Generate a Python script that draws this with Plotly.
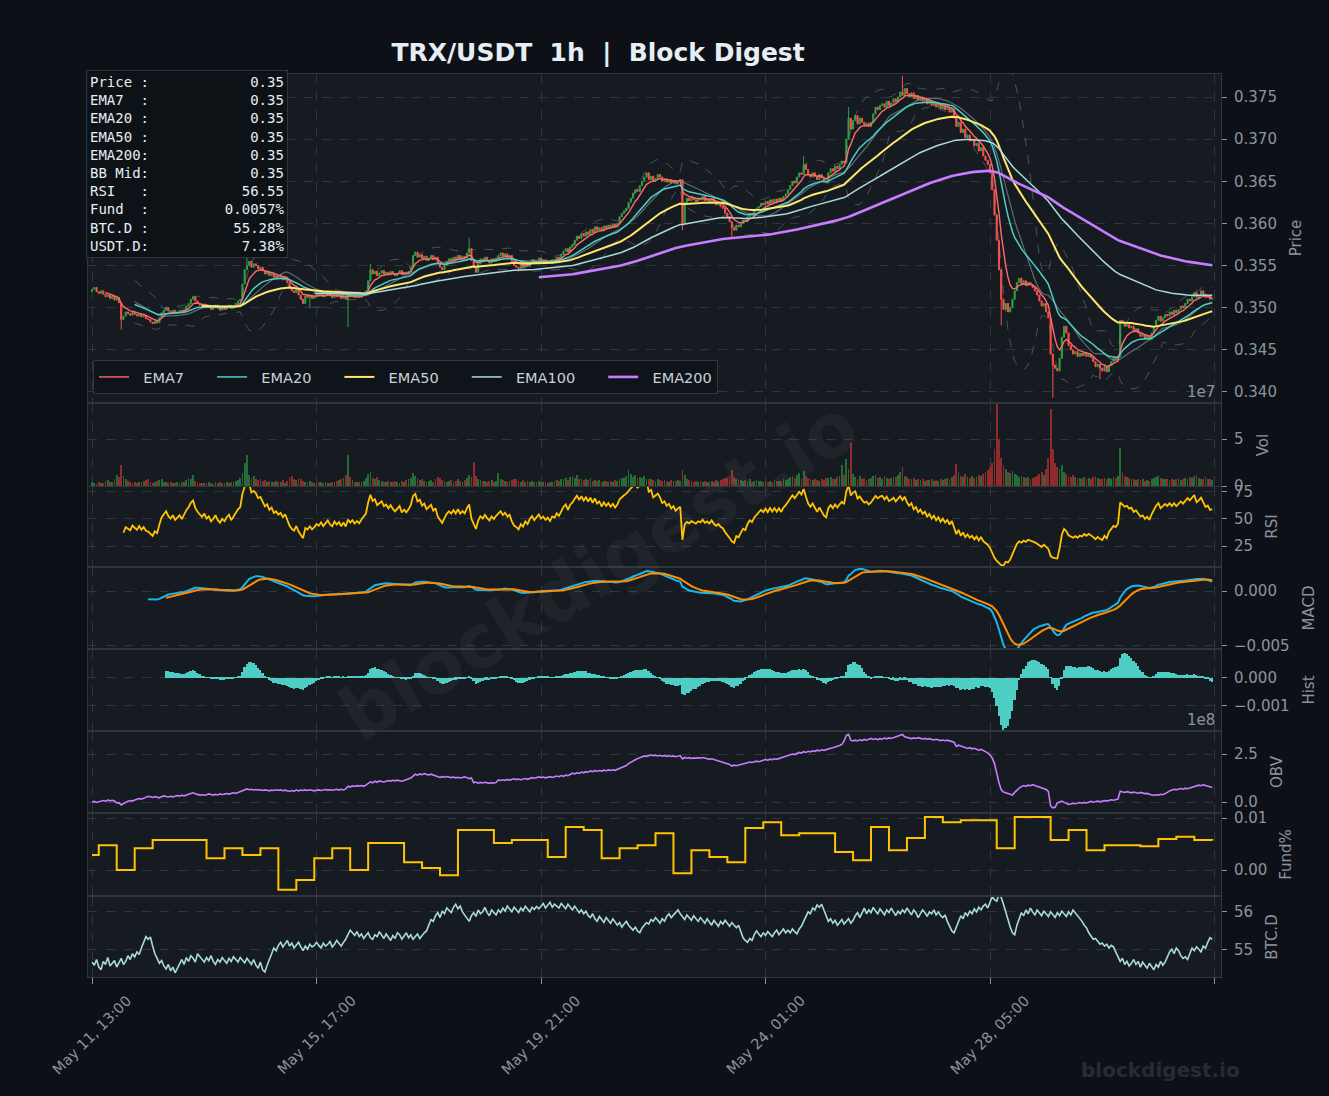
import numpy as np
import pandas as pd
import plotly.graph_objects as go

# ---------------------------------------------------------------- data
# hourly closes, price x 1e4 (TRX/USDT), starting May 11 13:00
close_e4 = [
    3522, 3524, 3519, 3517, 3520, 3516, 3513, 3515, 3511, 3514,
    3509, 3512, 3506, 3486, 3490, 3495, 3493, 3491, 3495, 3492,
    3490, 3493, 3489, 3491, 3487, 3486, 3483, 3481, 3484, 3482,
    3488, 3494, 3497, 3500, 3496, 3494, 3497, 3493, 3495, 3497,
    3494, 3498, 3502, 3505, 3510, 3513, 3508, 3505, 3503, 3501,
    3504, 3500, 3502, 3498, 3500, 3503, 3499, 3497, 3500, 3498,
    3501, 3503, 3499, 3502, 3505, 3508, 3510, 3528, 3545, 3550,
    3555, 3548, 3552, 3550, 3546, 3548, 3544, 3540, 3543, 3538,
    3541, 3536, 3538, 3535, 3537, 3533, 3536, 3530, 3524, 3520,
    3518, 3522, 3515, 3510, 3505, 3514, 3512, 3515, 3511, 3513,
    3516, 3514, 3517, 3513, 3515, 3518, 3514, 3512, 3516, 3513,
    3515, 3511, 3514, 3510, 3516, 3513, 3515, 3512, 3514, 3512,
    3515, 3518, 3520, 3532, 3545, 3540, 3543, 3538, 3541, 3544,
    3540, 3542, 3539, 3543, 3540, 3538, 3541, 3544, 3539, 3542,
    3540, 3543, 3548, 3562, 3566, 3560, 3563, 3558, 3561, 3556,
    3559, 3562, 3557, 3560, 3552, 3548, 3545, 3550, 3555, 3558,
    3556, 3560, 3557, 3562, 3558, 3561, 3559, 3565, 3570, 3556,
    3548, 3542, 3552, 3558, 3555, 3560, 3556, 3553, 3558, 3555,
    3559, 3562, 3565, 3561, 3564, 3560, 3562, 3555, 3550, 3548,
    3545, 3550, 3547, 3552, 3549, 3554, 3557, 3553, 3556, 3559,
    3555, 3557, 3554, 3556, 3553, 3557, 3556, 3560, 3558, 3563,
    3567, 3570, 3566, 3572, 3575, 3580, 3585, 3582, 3588, 3585,
    3590, 3587, 3593, 3589, 3596, 3592, 3595, 3591, 3597, 3594,
    3598, 3595, 3599, 3596, 3600, 3608, 3612, 3615, 3618, 3625,
    3630, 3636, 3640, 3638, 3645, 3650, 3655, 3660, 3652, 3656,
    3650, 3653, 3658, 3655, 3650, 3653, 3649, 3652, 3648, 3651,
    3647, 3650, 3652, 3600, 3625, 3630, 3627, 3631, 3628, 3626,
    3630, 3628, 3632, 3627, 3629, 3626, 3630, 3625, 3622, 3624,
    3620, 3618, 3612, 3608, 3602, 3595, 3592, 3598, 3596, 3600,
    3604, 3602, 3608, 3612, 3610, 3615, 3618, 3620, 3624, 3622,
    3626, 3623, 3628, 3625, 3629, 3626, 3630, 3627, 3632, 3635,
    3640, 3645, 3650, 3648, 3655, 3660, 3658, 3670, 3664, 3658,
    3655, 3660, 3656, 3652, 3658, 3654, 3650, 3648, 3660, 3665,
    3662, 3668, 3665, 3670, 3674, 3672, 3700, 3725, 3712, 3722,
    3728, 3718, 3725, 3720, 3716, 3719, 3715, 3720, 3730, 3738,
    3735, 3740, 3742, 3738, 3745, 3740, 3743, 3748, 3744, 3750,
    3756, 3752, 3760, 3754, 3750, 3755, 3748, 3752, 3746, 3750,
    3745, 3748, 3742, 3746, 3740, 3744, 3738, 3742, 3736, 3740,
    3735, 3738, 3732, 3736, 3725, 3715, 3720, 3708, 3712, 3702,
    3705, 3698, 3700, 3692, 3695, 3686, 3690, 3680, 3675, 3670,
    3660, 3640, 3610, 3580, 3545, 3510, 3498, 3505, 3495, 3500,
    3510, 3520, 3530, 3535, 3528, 3532, 3526, 3530, 3527, 3524,
    3520, 3515, 3508, 3502, 3505, 3495, 3488, 3445, 3432, 3428,
    3425, 3440, 3465, 3478, 3470, 3455, 3450, 3445, 3448, 3442,
    3446, 3443, 3447, 3442, 3445, 3441, 3436, 3430, 3433, 3428,
    3425, 3430, 3424, 3432, 3436, 3440, 3438, 3442, 3485, 3482,
    3478, 3480, 3476, 3478, 3472, 3475, 3470, 3466, 3468, 3463,
    3466, 3462, 3470, 3478, 3485, 3490, 3484, 3488, 3492, 3490,
    3495, 3492, 3497, 3494, 3498, 3502, 3500, 3505, 3510, 3508,
    3513, 3518, 3512, 3515, 3520, 3516, 3512, 3514, 3510, 3511,
]
first_open_e4 = 3519

# long candle wicks (index, price x 1e4)
wick_high_idx = [69, 124, 168, 317, 337, 361]
wick_high_e4 = [3562, 3552, 3583, 3680, 3738, 3775]
wick_low_idx = [13, 97, 114, 263, 285, 405, 428, 449]
wick_low_e4 = [3474, 3500, 3477, 3592, 3584, 3479, 3393, 3415]

# hourly volume, units of 1e5
volume_e5 = [
    45, 30, 25, 40, 35, 28, 50, 60, 42, 38,
    80, 120, 95, 220, 110, 70, 55, 40, 35, 48,
    30, 45, 38, 52, 60, 75, 48, 35, 40, 55,
    62, 70, 45, 38, 30, 42, 35, 28, 40, 33,
    45, 38, 60, 85, 70, 120, 55, 40, 35, 30,
    28, 35, 42, 30, 25, 38, 32, 45, 28, 35,
    40, 30, 38, 45, 50, 60, 85, 140, 250, 330,
    120, 90, 110, 80, 65, 70, 55, 60, 48, 52,
    45, 40, 55, 38, 42, 60, 35, 50, 95, 110,
    75, 60, 85, 70, 55, 48, 40, 52, 45, 35,
    30, 42, 38, 35, 45, 28, 33, 40, 38, 55,
    60, 70, 85, 120, 330, 95, 60, 45, 40, 38,
    42, 55, 90, 130, 150, 85, 70, 95, 60, 55,
    45, 40, 52, 38, 48, 55, 42, 35, 50, 45,
    60, 75, 90, 140, 110, 85, 65, 70, 55, 48,
    52, 60, 45, 70, 95, 85, 60, 50, 48, 55,
    62, 48, 55, 70, 58, 45, 60, 85, 120, 95,
    260, 110, 75, 60, 55, 50, 45, 58, 62, 48,
    55, 140, 70, 60, 52, 45, 50, 65, 80, 70,
    55, 48, 60, 45, 52, 40, 55, 48, 42, 50,
    45, 38, 42, 35, 48, 40, 52, 60, 55, 75,
    70, 85, 60, 95, 110, 90, 120, 75, 80, 65,
    70, 60, 85, 55, 65, 50, 60, 45, 58, 52,
    48, 55, 42, 60, 52, 70, 85, 90, 110, 170,
    130, 95, 120, 85, 100, 90, 110, 75, 70, 80,
    65, 55, 70, 60, 50, 65, 55, 48, 60, 52,
    58, 62, 55, 170, 120, 75, 60, 55, 48, 52,
    45, 50, 42, 55, 48, 40, 52, 45, 60, 55,
    65, 70, 85, 90, 110, 170, 95, 75, 60, 65,
    55, 60, 52, 70, 48, 55, 62, 50, 58, 45,
    52, 48, 55, 45, 60, 50, 58, 55, 70, 65,
    80, 95, 110, 85, 120, 140, 90, 160, 110, 85,
    70, 60, 75, 65, 55, 70, 60, 85, 90, 95,
    80, 75, 95, 110, 220, 120, 290, 180, 460, 130,
    95, 80, 110, 70, 85, 65, 75, 90, 110, 120,
    85, 95, 80, 110, 90, 75, 85, 100, 95, 120,
    150, 200, 110, 95, 80, 70, 85, 65, 75, 60,
    70, 55, 65, 60, 75, 58, 62, 55, 70, 65,
    75, 85, 70, 95, 120, 240, 150, 110, 95, 130,
    100, 85, 110, 90, 95, 120, 105, 130, 150, 170,
    200, 250, 400, 870, 500, 300, 220, 180, 150, 140,
    160, 130, 120, 95, 110, 100, 85, 95, 80, 90,
    95, 110, 130, 150, 120, 180, 300, 820, 400, 250,
    200, 180, 220, 150, 130, 110, 95, 120, 100, 85,
    90, 80, 95, 75, 85, 70, 95, 110, 90, 80,
    75, 85, 70, 90, 80, 95, 85, 110, 410, 150,
    110, 95, 85, 70, 80, 65, 75, 60, 70, 55,
    65, 58, 70, 85, 95, 110, 90, 75, 80, 70,
    65, 75, 60, 70, 85, 65, 75, 90, 80, 95,
    85, 110, 120, 90, 75, 70, 95, 80, 70, 60,
]

# on-balance volume, units of 1e6
obv_e6 = [
    0, 3, -2, 2, 5, 8, 4, 10, 6, 9,
    5, -5, -3, -15, -8, -1, 4, 8, 5, 10,
    14, 18, 15, 20, 25, 30, 27, 24, 28, 25,
    22, 28, 32, 29, 26, 30, 27, 30, 34, 31,
    35, 32, 38, 40, 44, 48, 43, 40, 36, 38,
    35, 38, 42, 39, 36, 40, 37, 42, 39, 41,
    44, 41, 45, 48, 45, 50, 55, 58, 65, 68,
    64, 66, 63, 65, 62, 64, 60, 63, 61, 58,
    62, 60, 64, 61, 63, 59, 62, 58, 55, 60,
    57, 62, 58, 62, 60, 63, 60, 64, 61, 58,
    61, 63, 60, 62, 65, 62, 64, 61, 63, 66,
    62, 66, 63, 68, 82, 78, 84, 81, 85, 83,
    86, 82, 88, 95, 105, 100, 108, 103, 110, 107,
    104, 108, 112, 109, 113, 110, 114, 111, 108, 112,
    116, 120, 125, 135, 145, 140, 146, 142, 148, 144,
    141, 145, 140, 137, 130, 128, 132, 129, 133, 131,
    127, 130, 126, 129, 125, 128, 131, 127, 122, 125,
    100, 104, 98, 102, 99, 103, 100, 97, 101, 98,
    102, 115, 112, 116, 113, 117, 114, 118, 121, 117,
    120, 116, 119, 122, 118, 123, 127, 124, 128, 131,
    127, 130, 126, 129, 132, 128, 131, 135, 132, 138,
    134, 140, 137, 143, 150, 146, 153, 149, 156, 152,
    158, 155, 162, 158, 163, 160, 164, 161, 166, 163,
    167, 164, 168, 165, 170, 175, 180, 184, 190, 200,
    208, 214, 220, 226, 232, 236, 240, 238, 242, 245,
    241, 244, 240, 243, 239, 242, 238, 241, 237, 240,
    236, 239, 242, 225, 232, 228, 231, 227, 230, 228,
    231, 228, 232, 229, 226, 222, 225, 221, 218, 215,
    212, 209, 205, 200, 196, 187, 192, 189, 193, 196,
    199, 202, 205, 208, 206, 210, 213, 210, 215, 218,
    221, 218, 223, 220, 225, 222, 227, 230, 234, 238,
    242, 246, 250, 247, 252, 258, 255, 262, 258, 264,
    261, 267, 264, 270, 266, 272, 269, 274, 277, 280,
    283, 286, 290, 294, 300, 318, 347, 352, 322, 318,
    322, 318, 324, 320, 326, 322, 327, 331, 326, 329,
    325, 330, 327, 333, 329, 334, 331, 336, 340, 345,
    350, 352, 340, 336, 333, 330, 334, 331, 335, 332,
    328, 331, 327, 330, 326, 323, 327, 324, 320, 323,
    319, 322, 318, 315, 311, 290, 296, 292, 288, 284,
    279, 283, 277, 280, 276, 270, 274, 268, 262, 256,
    245, 230, 200, 140, 100, 63, 52, 48, 44, 40,
    36, 50, 62, 72, 80, 86, 82, 88, 85, 90,
    86, 82, 78, 75, 72, 65, 55, -20, -30, -27,
    -5, 0, 5, -2, -8, -12, -10, -6, -9, -5,
    -3, -6, -2, -5, 0, 3, -1, 2, 5, 1,
    4, 8, 5, 9, 12, 9, 13, 15, 56, 52,
    50, 54, 51, 48, 52, 49, 46, 50, 47, 44,
    45, 40, 37, 35, 38, 36, 40, 38, 42, 50,
    58, 62, 66, 64, 68, 70, 67, 72, 69, 73,
    76, 80, 84, 88, 85, 90, 86, 82, 78, 76,
]

# BTC dominance, hourly, x 100
btc_dom_e2 = [
    5468, 5460, 5475, 5455, 5448, 5470, 5462, 5480, 5458, 5465,
    5472, 5455, 5468, 5478, 5462, 5470, 5485, 5475, 5490, 5482,
    5495, 5488, 5505, 5520, 5535, 5528, 5534, 5510, 5490, 5478,
    5465, 5472, 5458, 5450, 5462, 5445, 5455, 5440, 5452, 5465,
    5475, 5462, 5480, 5470, 5485, 5478, 5468, 5490, 5482, 5475,
    5468, 5480, 5472, 5485, 5470, 5462, 5475, 5468, 5480, 5472,
    5465, 5478, 5470, 5482, 5475, 5468, 5480, 5473, 5466, 5478,
    5470, 5462, 5475, 5460, 5452, 5468, 5448, 5442, 5460, 5478,
    5490, 5505, 5498, 5512, 5520, 5508, 5515, 5525, 5510, 5518,
    5505, 5512, 5520, 5508, 5498, 5510, 5502, 5515, 5508, 5512,
    5520, 5512, 5505, 5518, 5510, 5515, 5522, 5508, 5515, 5525,
    5518, 5510, 5520, 5528, 5540, 5552, 5545, 5538, 5548, 5535,
    5542, 5530, 5538, 5545, 5532, 5528, 5540, 5535, 5548, 5538,
    5530, 5542, 5535, 5525, 5538, 5530, 5545, 5540, 5528, 5536,
    5545, 5532, 5540, 5528, 5535, 5542, 5530, 5538, 5545, 5550,
    5565, 5580, 5575, 5590, 5598, 5585, 5602, 5595, 5610, 5605,
    5598, 5612, 5620, 5608, 5615, 5600, 5592, 5585, 5575, 5590,
    5598, 5588, 5605, 5595, 5600, 5612, 5598, 5590, 5605, 5598,
    5592, 5605, 5598, 5610, 5602, 5615, 5608, 5600, 5612, 5605,
    5598, 5610, 5603, 5615, 5608, 5600, 5612, 5606, 5614, 5608,
    5615, 5622, 5610, 5618, 5625, 5612, 5620, 5615, 5610, 5622,
    5615, 5608, 5620, 5612, 5605, 5615, 5608, 5598, 5605, 5595,
    5602, 5590, 5585, 5595, 5582, 5575, 5588, 5580, 5572, 5585,
    5578, 5570, 5582, 5575, 5565, 5572, 5560, 5568, 5575, 5565,
    5558, 5552, 5560, 5550, 5545, 5558, 5565, 5572, 5568, 5580,
    5575, 5585, 5578, 5570, 5582, 5575, 5588, 5595, 5585, 5592,
    5600, 5605, 5595, 5588, 5580, 5592, 5585, 5578, 5590, 5582,
    5575, 5585, 5578, 5570, 5582, 5575, 5565, 5578, 5570, 5562,
    5575, 5568, 5578, 5570, 5562, 5572, 5565, 5558, 5565, 5545,
    5532, 5525, 5520, 5530, 5525, 5540, 5550, 5542, 5535, 5545,
    5538, 5548, 5542, 5535, 5545, 5552, 5540, 5548, 5555, 5545,
    5552, 5545, 5555, 5548, 5542, 5555, 5562, 5575, 5590, 5600,
    5595, 5610, 5605, 5618, 5612, 5620, 5605, 5590, 5575, 5582,
    5570, 5578, 5565, 5572, 5580, 5568, 5575, 5582, 5570, 5578,
    5590, 5598, 5585, 5600, 5610, 5595, 5605, 5598, 5612, 5602,
    5595, 5608, 5600, 5592, 5605, 5598, 5610, 5600, 5590, 5602,
    5595, 5605, 5598, 5610, 5600, 5592, 5605, 5598, 5585, 5595,
    5605, 5598, 5588, 5600, 5595, 5605, 5592, 5600, 5590, 5585,
    5592, 5575, 5560, 5550, 5545, 5562, 5578, 5590, 5582, 5598,
    5590, 5602, 5595, 5608, 5600, 5612, 5605, 5615, 5620, 5610,
    5625, 5640, 5632, 5628, 5645, 5638, 5620, 5600, 5578, 5560,
    5545, 5540, 5565, 5580, 5598, 5590, 5605, 5595, 5610, 5600,
    5592, 5605, 5598, 5590, 5602, 5595, 5588, 5600, 5592, 5585,
    5598, 5590, 5602, 5595, 5588, 5600, 5592, 5605, 5598, 5590,
    5582, 5575, 5565, 5558, 5545, 5535, 5528, 5530, 5522, 5515,
    5518, 5510, 5515, 5505, 5512, 5508, 5495, 5480, 5470, 5478,
    5462, 5470, 5458, 5465, 5475, 5462, 5470, 5455, 5468, 5460,
    5452, 5465, 5458, 5448, 5462, 5455, 5470, 5460, 5468, 5480,
    5495, 5502, 5490, 5505, 5498, 5485, 5478, 5482, 5475, 5490,
    5505, 5498, 5508, 5502, 5495, 5510, 5505, 5520, 5532, 5528,
]

# funding rate (%) for each 8h period
funding_pct = [
    0.0029, 0.0048, 0.0000, 0.0042, 0.0058, 0.0058, 0.0058, 0.0023, 0.0042, 0.0029,
    0.0042, -0.0038, -0.0019, 0.0023, 0.0042, 0.0000, 0.0052, 0.0052, 0.0015, 0.0004,
    -0.0010, 0.0077, 0.0077, 0.0052, 0.0058, 0.0058, 0.0025, 0.0083, 0.0077, 0.0023,
    0.0042, 0.0048, 0.0071, -0.0006, 0.0038, 0.0025, 0.0015, 0.0081, 0.0092, 0.0067,
    0.0071, 0.0071, 0.0035, 0.0019, 0.0083, 0.0038, 0.0062, 0.0102, 0.0092, 0.0096,
    0.0096, 0.0042, 0.0102, 0.0102, 0.0058, 0.0077, 0.0038, 0.0048, 0.0048, 0.0046,
    0.0060, 0.0064, 0.0058, 0.0057,
]

x_tick_labels = ["May 11, 13:00", "May 15, 17:00", "May 19, 21:00",
                 "May 24, 01:00", "May 28, 05:00", ""]

info_labels = ["Price :", "EMA7  :", "EMA20 :", "EMA50 :", "EMA200:",
               "BB Mid:", "RSI   :", "Fund  :", "BTC.D :", "USDT.D:"]
info_values = ["0.35", "0.35", "0.35", "0.35", "0.35",
               "0.35", "56.55", "0.0057%", "55.28%", "7.38%"]

# ---------------------------------------------------------------- derived
N = len(close_e4)
xi = np.arange(N)
close = pd.Series(np.array(close_e4, dtype=float) / 1e4)
open_ = close.shift(1)
open_.iloc[0] = first_open_e4 / 1e4
high = np.maximum(open_.values, close.values)
low = np.minimum(open_.values, close.values)
for i, v in zip(wick_high_idx, wick_high_e4):
    high[i] = max(high[i], v / 1e4)
for i, v in zip(wick_low_idx, wick_low_e4):
    low[i] = min(low[i], v / 1e4)

volume = np.array(volume_e5, dtype=float) * 1e5
obv = np.array(obv_e6, dtype=float) * 1e6
btc_dom = np.array(btc_dom_e2, dtype=float) / 100.0


def ema(s, n):
    e = s.ewm(span=n, adjust=False).mean()
    e.iloc[: n - 1] = np.nan
    return e


ema_spans = [7, 20, 50, 100, 200]
emas = {n: ema(close, n) for n in ema_spans}
bb_mid = close.rolling(20).mean()
bb_std = close.rolling(20).std()
bb_up = bb_mid + 2 * bb_std
bb_lo = bb_mid - 2 * bb_std

delta = close.diff()
gain = delta.clip(lower=0).ewm(alpha=1 / 14, adjust=False, min_periods=14).mean()
loss = (-delta.clip(upper=0)).ewm(alpha=1 / 14, adjust=False, min_periods=14).mean()
rsi = 100 - 100 / (1 + gain / loss)

e12 = close.ewm(span=12, adjust=False, min_periods=12).mean()
e26 = close.ewm(span=26, adjust=False, min_periods=26).mean()
macd = e12 - e26
signal = macd.ewm(span=9, adjust=False, min_periods=9).mean()
hist = macd - signal

funding_x = [0] + [8 * k - 5 for k in range(1, len(funding_pct))]

# ---------------------------------------------------------------- styling
FIG_BG = "#0d1117"
AX_BG = "#161b22"
GRID = "#30363d"
TXT = "#8b949e"
GREEN = "#2ea043"
RED = "#f85149"
NB = "\u00a0"
ema_colors = {7: "#ff6b6b", 20: "#4ecdc4", 50: "#ffe66d", 100: "#a8dadc", 200: "#c77dff"}
ema_widths = {7: 1.4, 20: 1.5, 50: 2.0, 100: 1.5, 200: 2.6}
legend_lead = {7: 2, 20: 2, 50: 2, 100: 2, 200: 2}
legend_trail = {7: 5, 20: 5, 50: 5, 100: 5, 200: 0}

fig = go.Figure()

# Bollinger bands
for s in (bb_up, bb_lo):
    fig.add_trace(go.Scatter(x=xi, y=s, mode="lines", showlegend=False, hoverinfo="skip",
                             line=dict(color="rgba(139,148,158,0.45)", width=1, dash="dash"),
                             xaxis="x", yaxis="y"))
fig.add_trace(go.Scatter(x=xi, y=bb_mid, mode="lines", showlegend=False, hoverinfo="skip",
                         line=dict(color="rgba(139,148,158,0.65)", width=1.2),
                         xaxis="x", yaxis="y"))

fig.add_trace(go.Candlestick(
    x=xi, open=open_, high=high, low=low, close=close,
    increasing=dict(line=dict(color=GREEN, width=1), fillcolor=GREEN),
    decreasing=dict(line=dict(color=RED, width=1), fillcolor=RED),
    whiskerwidth=0, showlegend=False, xaxis="x", yaxis="y"))

for n in ema_spans:
    fig.add_trace(go.Scatter(
        x=xi, y=emas[n], mode="lines",
        name=NB * legend_lead[n] + f"EMA{n}" + NB * legend_trail[n],
        line=dict(color=ema_colors[n], width=ema_widths[n]),
        xaxis="x", yaxis="y"))

vol_colors = np.where(close.values >= open_.values, "rgba(46,160,67,0.62)", "rgba(218,54,51,0.62)")
fig.add_trace(go.Bar(x=xi, y=volume, marker=dict(color=vol_colors, line=dict(width=0)),
                     width=0.8, showlegend=False, xaxis="x2", yaxis="y2"))

fig.add_trace(go.Scatter(x=xi, y=rsi, mode="lines", line=dict(color="#ffc300", width=1.8),
                         showlegend=False, xaxis="x3", yaxis="y3"))

fig.add_trace(go.Scatter(x=xi, y=macd, mode="lines", line=dict(color="#1ab6ec", width=2),
                         showlegend=False, xaxis="x4", yaxis="y4"))
fig.add_trace(go.Scatter(x=xi, y=signal, mode="lines", line=dict(color="#ff8c00", width=2),
                         showlegend=False, xaxis="x4", yaxis="y4"))

fig.add_trace(go.Bar(x=xi, y=hist, marker=dict(color="#4ecdc4", line=dict(width=0)),
                     width=0.8, showlegend=False, xaxis="x5", yaxis="y5"))

fig.add_trace(go.Scatter(x=xi, y=obv, mode="lines", line=dict(color="#c77dff", width=1.6),
                         showlegend=False, xaxis="x6", yaxis="y6"))

fig.add_trace(go.Scatter(x=funding_x, y=funding_pct, mode="lines", line_shape="hv",
                         line=dict(color="#ffc300", width=2), showlegend=False,
                         xaxis="x7", yaxis="y7"))

fig.add_trace(go.Scatter(x=xi, y=btc_dom, mode="lines", line=dict(color="#a8dadc", width=1.6),
                         showlegend=False, xaxis="x8", yaxis="y8"))

# ---------------------------------------------------------------- layout
W, H = 1329, 1096
PL, PR, PT, PB = 88, 1221, 74, 977
panels_px = [(74, 402), (404, 486), (487, 566), (568, 648),
             (650, 730), (732, 812), (814, 895), (897, 977)]
ph = PB - PT
pw = PR - PL


def dom(t, b):
    return [(PB - b) / ph, (PB - t) / ph]


tickfont = dict(family="DejaVu Sans", size=15, color=TXT)
x_range = [-1.8, 502.9]
x_tickvals = [0, 100, 200, 300, 400, 500]

y_specs = [
    dict(title="Price", range=[0.33881, 0.37773],
         tickvals=[0.340, 0.345, 0.350, 0.355, 0.360, 0.365, 0.370, 0.375],
         ticktext=["0.340", "0.345", "0.350", "0.355", "0.360", "0.365", "0.370", "0.375"]),
    dict(title="Vol", range=[0, 8.75e7], tickvals=[0, 5e7], ticktext=["0", "5"]),
    dict(title="RSI", range=[6.5, 79.6], tickvals=[25, 50, 75], ticktext=["25", "50", "75"]),
    dict(title="MACD", range=[-0.0052, 0.0021], tickvals=[-0.005, 0.0],
         ticktext=["\u22120.005", "0.000"]),
    dict(title="Hist", range=[-0.00186, 0.00100], tickvals=[-0.001, 0.0],
         ticktext=["\u22120.001", "0.000"]),
    dict(title="OBV", range=[-0.52e8, 3.646e8], tickvals=[0, 2.5e8], ticktext=["0.0", "2.5"]),
    dict(title="Fund%", range=[-0.0048, 0.0108], tickvals=[0.0, 0.01], ticktext=["0.00", "0.01"]),
    dict(title="BTC.D", range=[54.29, 56.39], tickvals=[55, 56], ticktext=["55", "56"]),
]

layout = dict(
    width=W, height=H,
    paper_bgcolor=FIG_BG, plot_bgcolor=AX_BG,
    margin=dict(l=PL, r=W - PR, t=PT, b=H - PB, pad=0),
    font=dict(family="DejaVu Sans", color=TXT),
    bargap=0,
    showlegend=True,
    legend=dict(orientation="h", x=(93 - PL) / pw, y=(PB - 394) / ph,
                xanchor="left", yanchor="bottom", bgcolor="#0f141b",
                bordercolor=GRID, borderwidth=1,
                font=dict(family="DejaVu Sans", size=14.5, color="#c9d1d9")),
    title=dict(text=f"TRX/USDT{NB}{NB}1h{NB}{NB}|{NB}{NB}Block Digest",
               x=0.45, xanchor="center", xref="container",
               y=1 - 52 / H, yanchor="middle", yref="container",
               font=dict(family="DejaVu Sans", size=25, color="#e6edf3", weight="bold")),
)

for k in range(8):
    sfx = "" if k == 0 else str(k + 1)
    t, b = panels_px[k]
    bottom = (k == 7)
    xa = dict(domain=[0, 1], anchor="y" + sfx, range=x_range,
              tickvals=x_tickvals, ticktext=x_tick_labels,
              showticklabels=False, ticks="outside" if bottom else "",
              ticklen=6, tickcolor=TXT,
              showgrid=True, gridcolor=GRID, griddash="dash", gridwidth=1,
              showline=True, mirror=True, linecolor=GRID, linewidth=1,
              zeroline=False)
    if k == 0:
        xa["rangeslider"] = dict(visible=False)
    else:
        xa["matches"] = "x"
    layout["xaxis" + sfx] = xa
    sp = y_specs[k]
    layout["yaxis" + sfx] = dict(
        domain=dom(t, b), anchor="x" + sfx, side="right", range=sp["range"],
        tickvals=sp["tickvals"], ticktext=sp["ticktext"], tickfont=tickfont,
        ticks="outside", ticklen=5, tickcolor=TXT, ticklabelstandoff=4,
        showgrid=True, gridcolor=GRID, griddash="dash", gridwidth=1,
        showline=True, mirror=True, linecolor=GRID, linewidth=1, zeroline=False,
        title=dict(text=sp["title"], font=dict(family="DejaVu Sans", size=15, color=TXT),
                   standoff=14))

# duplicate MACD scale on the left
layout["yaxis9"] = dict(overlaying="y4", anchor="x4", side="left",
                        range=y_specs[3]["range"], tickvals=y_specs[3]["tickvals"],
                        ticktext=y_specs[3]["ticktext"], tickfont=tickfont,
                        ticks="outside", ticklen=5, tickcolor=TXT,
                        showgrid=False, showline=False, zeroline=False)

fig.update_layout(**layout)

info_text = "<br>".join((lab + f"{val:>16}").replace(" ", NB)
                        for lab, val in zip(info_labels, info_values))

annotations = [
    dict(text=info_text, xref="paper", yref="paper",
         x=(86 - PL) / pw, y=(PB - 70) / ph, xanchor="left", yanchor="top",
         align="left", showarrow=False,
         font=dict(family="DejaVu Sans Mono", size=14, color="#e6edf3"),
         bgcolor="rgba(13,17,23,0.92)", bordercolor=GRID, borderwidth=1, borderpad=3),
    dict(text="blockdigest.io", xref="paper", yref="paper",
         x=(598 - PL) / pw, y=(PB - 570) / ph, xanchor="center", yanchor="middle",
         textangle=-31, showarrow=False,
         font=dict(family="DejaVu Sans", size=74, color="rgba(255,255,255,0.04)", weight="bold")),
    dict(text="blockdigest.io", xref="paper", yref="paper",
         x=(1160 - PL) / pw, y=(PB - 1070) / ph, xanchor="center", yanchor="middle",
         showarrow=False,
         font=dict(family="DejaVu Sans", size=20, color="#262c35", weight="bold")),
    dict(text="1e7", xref="paper", yref="paper",
         x=(1217 - PL) / pw, y=(PB - 392) / ph, xanchor="right", yanchor="middle",
         showarrow=False, font=dict(family="DejaVu Sans", size=15, color=TXT)),
    dict(text="1e8", xref="paper", yref="paper",
         x=(1217 - PL) / pw, y=(PB - 720) / ph, xanchor="right", yanchor="middle",
         showarrow=False, font=dict(family="DejaVu Sans", size=15, color=TXT)),
]

# rotated date labels, centred under their ticks (matplotlib style)
for tv, tt in zip(x_tickvals, x_tick_labels):
    if not tt:
        continue
    annotations.append(dict(
        text=tt, xref="x8", yref="paper", x=tv, y=(PB - 990) / ph,
        xanchor="center", yanchor="top", textangle=-45, showarrow=False,
        font=dict(family="DejaVu Sans", size=14.5, color=TXT)))

fig.update_layout(annotations=annotations)

fig.write_html("out.html", config={"displayModeBar": False})
